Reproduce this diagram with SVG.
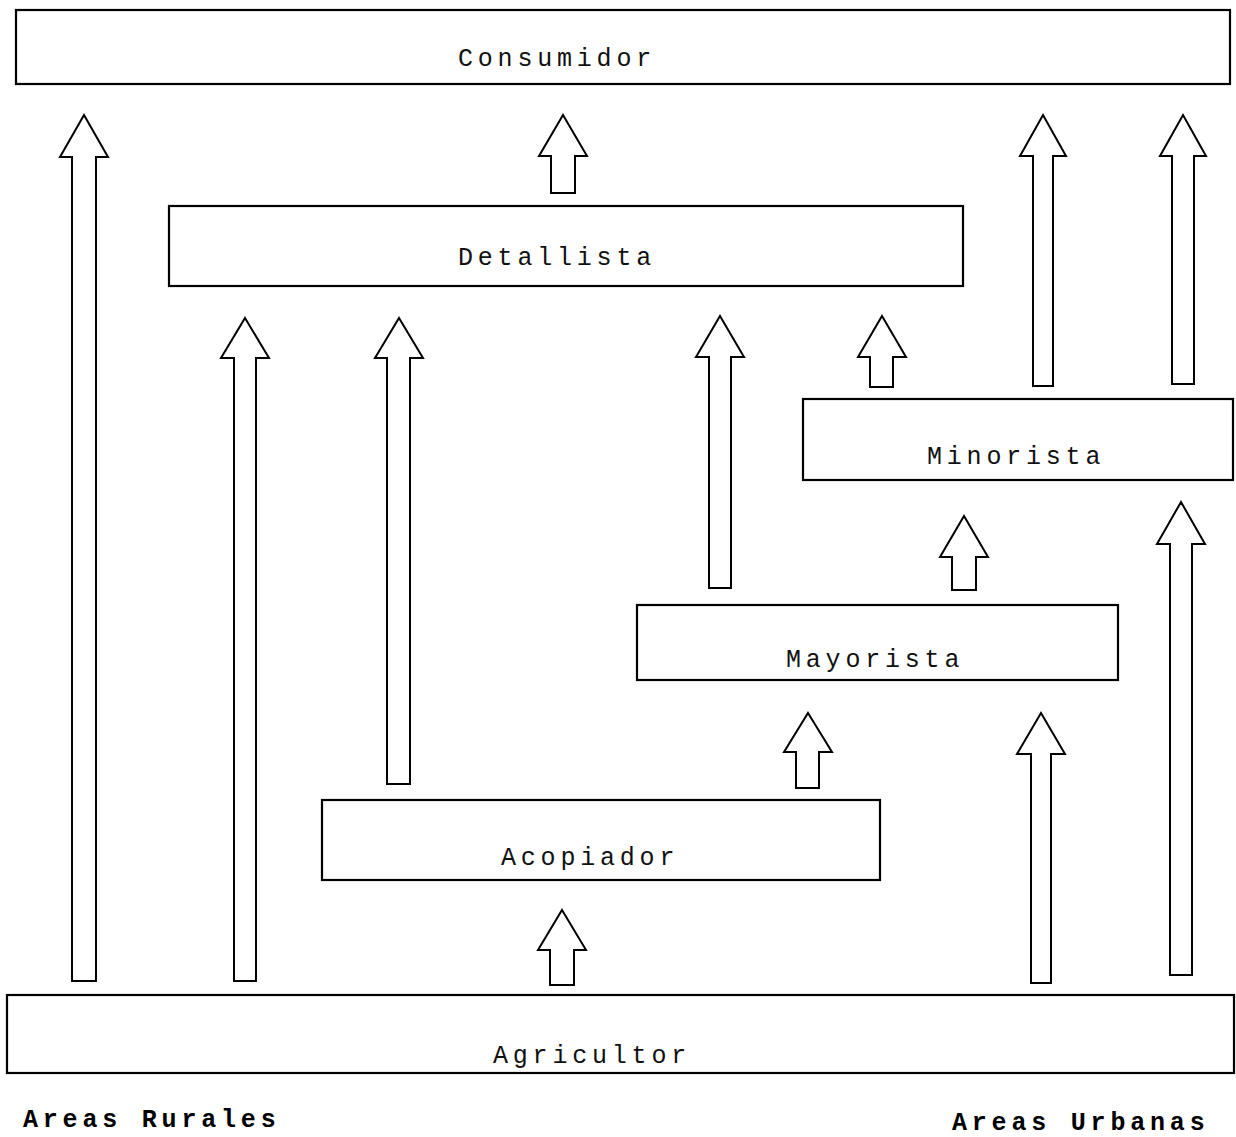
<svg xmlns="http://www.w3.org/2000/svg" width="1236" height="1137" viewBox="0 0 1236 1137">
<style>
.box{fill:#fff;stroke:#000;stroke-width:2.2}
.arr{fill:#fff;stroke:#000;stroke-width:2;stroke-linejoin:miter}
.lbl{font-family:"Liberation Mono","Courier New",monospace;font-size:25px;letter-spacing:4.8px;fill:#111}
.foot{font-family:"Liberation Mono","Courier New",monospace;font-size:25px;letter-spacing:4.8px;font-weight:bold;fill:#000}
</style>
<rect width="1236" height="1137" fill="#fff"/>
<g id="connectors">
<polygon class="arr" points="84,115 108,157 96,157 96,981 72,981 72,157 60,157"/>
<polygon class="arr" points="245,318 269,358 256,358 256,981 234,981 234,358 221,358"/>
<polygon class="arr" points="399,318 423,358 410,358 410,784 387,784 387,358 375,358"/>
<polygon class="arr" points="563,115 587,156 575,156 575,193 551,193 551,156 539,156"/>
<polygon class="arr" points="720,316 744,357 731,357 731,588 709,588 709,357 696,357"/>
<polygon class="arr" points="882,316 906,357 893,357 893,387 870,387 870,357 858,357"/>
<polygon class="arr" points="1043,115 1066,156 1053,156 1053,386 1033,386 1033,156 1020,156"/>
<polygon class="arr" points="1183,115 1206,156 1194,156 1194,384 1172,384 1172,156 1160,156"/>
<polygon class="arr" points="964,516 988,557 976,557 976,590 952,590 952,557 940,557"/>
<polygon class="arr" points="1181,502 1205,544 1192,544 1192,975 1170,975 1170,544 1157,544"/>
<polygon class="arr" points="808,713 832,752 819,752 819,788 796,788 796,752 784,752"/>
<polygon class="arr" points="562,910 586,950 574,950 574,985 550,985 550,950 538,950"/>
<polygon class="arr" points="1041,713 1065,754 1051,754 1051,983 1031,983 1031,754 1017,754"/>
</g>
<g id="consumidor">
<rect class="box" x="16" y="10" width="1214" height="74"/>
<text class="lbl" x="458" y="66">Consumidor</text>
</g>
<g id="detallista">
<rect class="box" x="169" y="206" width="794" height="80"/>
<text class="lbl" x="458" y="265">Detallista</text>
</g>
<g id="minorista">
<rect class="box" x="803" y="399" width="430" height="81"/>
<text class="lbl" x="927" y="464">Minorista</text>
</g>
<g id="mayorista">
<rect class="box" x="637" y="605" width="481" height="75"/>
<text class="lbl" x="786" y="667">Mayorista</text>
</g>
<g id="acopiador">
<rect class="box" x="322" y="800" width="558" height="80"/>
<text class="lbl" x="501" y="865">Acopiador</text>
</g>
<g id="agricultor">
<rect class="box" x="7" y="995" width="1227" height="78"/>
<text class="lbl" x="493" y="1063">Agricultor</text>
</g>
<g id="labels">
<text class="foot" x="23" y="1127">Areas Rurales</text>
<text class="foot" x="952" y="1130">Areas Urbanas</text>
</g>
</svg>
